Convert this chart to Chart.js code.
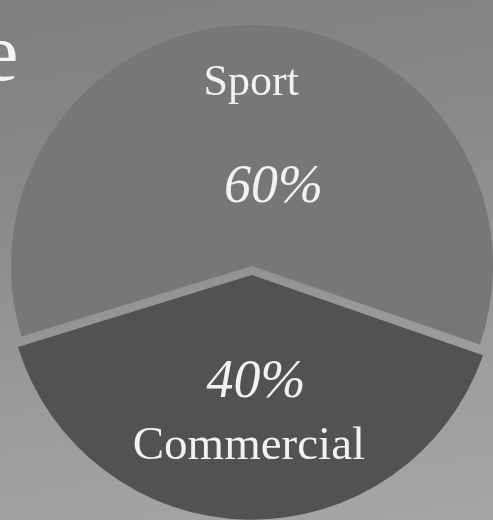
<!DOCTYPE html>
<html>
<head>
<meta charset="utf-8">
<script src="https://cdn.jsdelivr.net/npm/chart.js@4.4.1/dist/chart.umd.min.js"></script>
<style>
  html, body { margin: 0; padding: 0; }
  body {
    width: 493px; height: 520px; overflow: hidden; position: relative;
    background: linear-gradient(170deg, #7f7f7f 0%, #8a8a8a 35%, #9c9c9c 70%, #a6a6a6 100%);
  }
  #wrap { position: absolute; left: 0; top: 0; width: 493px; height: 520px; }
  #title {
    position: absolute; left: -18px; top: 12px; z-index: 2;
    font-family: "Liberation Serif", "DejaVu Serif", serif;
    font-size: 82px; color: #f4f4f4; line-height: 1;
  }
</style>
</head>
<body>
<div id="wrap"><canvas id="pieChart" width="493" height="520"></canvas></div>
<div id="title">e</div>
<script>
document.addEventListener("DOMContentLoaded", function () {
    let categories = ["Sport", "Commercial"];
    let shares = [60, 40];
    let sliceColors = ["#777777", "#525252"];

    // where each label sits along the slice's middle ray (fraction of radius)
    let labelSpots = [
        { name: 0.77, pct: 0.34, dx: -4, pdx: 20 },
        { name: 0.70, pct: 0.43, dx: 0, pdx: 6 }
    ];

    let sliceLabels = {
        id: "sliceLabels",
        afterDatasetsDraw(chart) {
            let ctx = chart.ctx;
            let arcs = chart.getDatasetMeta(0).data;
            ctx.save();
            ctx.fillStyle = "#f2f2f2";
            ctx.textAlign = "center";
            ctx.textBaseline = "alphabetic";
            arcs.forEach((arc, i) => {
                let p = arc.getProps(["x", "y", "startAngle", "endAngle", "outerRadius"], true);
                let mid = (p.startAngle + p.endAngle) / 2;
                // Chart.js draws the arc shifted by offset / 4
                let off = (chart.data.datasets[0].offset[i] || 0) / 4;
                let cx = p.x + Math.cos(mid) * off;
                let cy = p.y + Math.sin(mid) * off;
                let spot = labelSpots[i];
                let r = p.outerRadius;
                let nx = cx + Math.cos(mid) * r * spot.name + spot.dx;
                let ny = cy + Math.sin(mid) * r * spot.name;
                let px = cx + Math.cos(mid) * r * spot.pct + spot.pdx;
                let py = cy + Math.sin(mid) * r * spot.pct;
                ctx.font = (i === 0 ? "44px" : "47px") + ' "Liberation Serif", serif';
                ctx.fillText(categories[i], nx, ny + 15);
                ctx.font = 'italic 54px "Liberation Serif", serif';
                ctx.fillText(shares[i] + "%", px, py + 18);
            });
            ctx.restore();
        }
    };

    let ctx = document.getElementById("pieChart").getContext("2d");
    new Chart(ctx, {
        type: "pie",
        data: {
            labels: categories,
            datasets: [{
                data: shares,
                backgroundColor: sliceColors,
                borderWidth: 0,
                offset: [0, 36]
            }]
        },
        options: {
            responsive: false,
            animation: false,
            rotation: 253,
            radius: 241,
            layout: { padding: { left: 11, top: 12, right: 0, bottom: 0 } },
            plugins: {
                legend: { display: false },
                tooltip: { enabled: false }
            }
        },
        plugins: [sliceLabels]
    });
});
</script>
</body>
</html>
